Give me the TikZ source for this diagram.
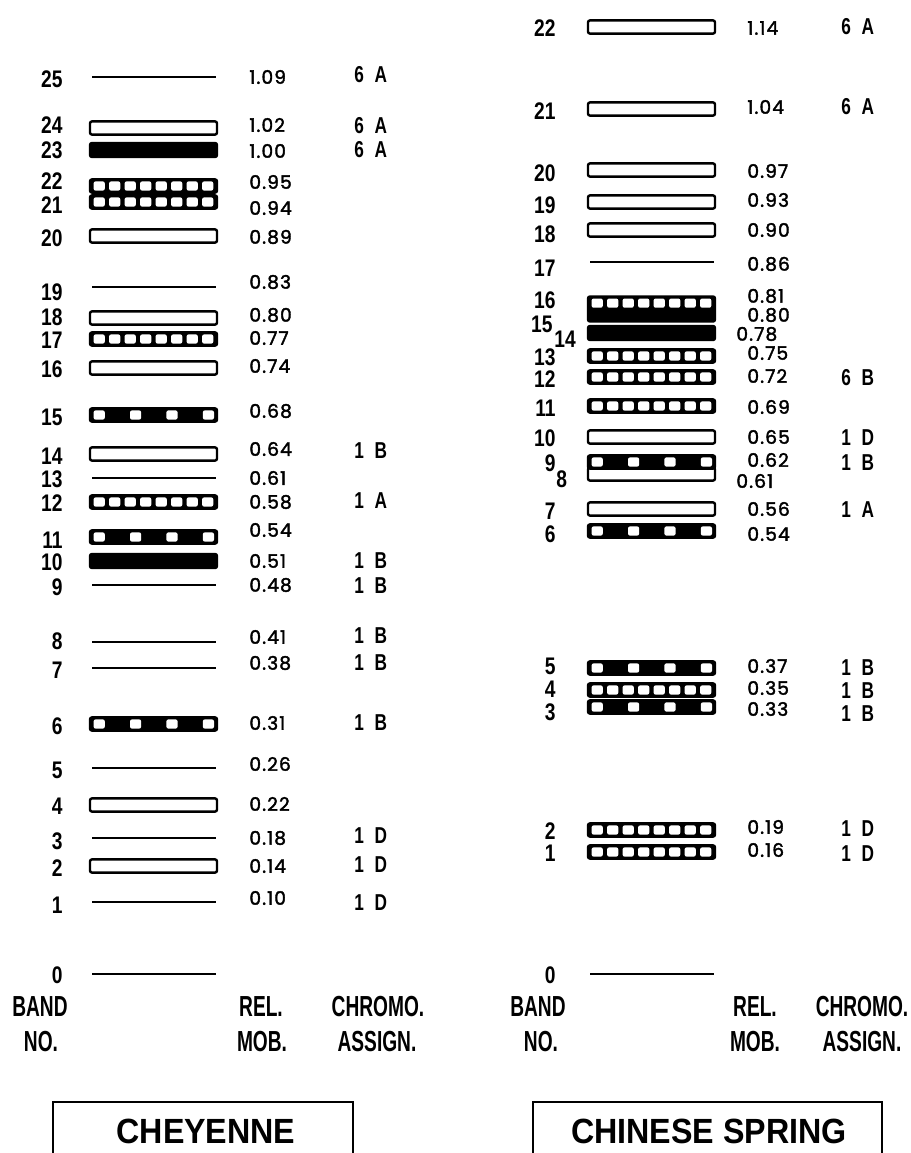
\documentclass[tikz,border=0pt]{standalone}
\usepackage{fontspec}
\newfontfamily\bandfont[FakeStretch=0.8]{Liberation Sans}
\newfontfamily\headfont[FakeStretch=0.66]{Liberation Sans}
\newfontfamily\chromofont[FakeStretch=0.75,WordSpace=2.2]{Liberation Sans}
\newfontfamily\mobfont[LetterSpace=6,FakeBold=2]{Poppins}
\newfontfamily\titlefont[FakeStretch=0.92]{Liberation Sans}

\begin{document}
\begin{tikzpicture}[
  x=0.5pt, y=-0.5pt,
  bar/.style={rounded corners=1pt, line width=1.2pt, minimum width=63.5pt, minimum height=6.6pt, inner sep=0pt, outer sep=0pt},
  openbar/.style={bar, draw, fill=white},
  solidbar/.style={bar, draw, fill=black, minimum height=7pt},
  finebar/.style={bar, draw, fill=black, path picture={
    \foreach \k in {0,...,7}
      \fill[white] ([xshift=1.8pt+\k*7.75pt, yshift=-1pt]path picture bounding box.north west) rectangle ++(5.6pt,-4.6pt);}},
  coarsebar/.style={bar, draw, fill=black, path picture={
    \foreach \k in {0,...,3}
      \fill[white] ([xshift=1.8pt+\k*18.2pt, yshift=-1pt]path picture bounding box.north west) rectangle ++(5.6pt,-4.6pt);}},
  bandline/.style={fill=black, minimum width=62pt, minimum height=1.2pt, inner sep=0pt, outer sep=0pt},
  bandno/.style={font=\bandfont\bfseries\fontsize{12}{12}\selectfont, inner sep=0pt},
  head/.style={font=\headfont\bfseries\fontsize{14.5}{14.5}\selectfont, inner sep=0pt},
  mob/.style={font=\mobfont\fontsize{9.3}{9.3}\selectfont, inner sep=0pt},
  chromo/.style={font=\chromofont\bfseries\fontsize{11.5}{11.5}\selectfont, inner sep=0pt},
  title/.style={font=\titlefont\bfseries\fontsize{17.5}{18}\selectfont, inner sep=0pt}
]
\useasboundingbox (0,0) rectangle (911,1153);
\fill[white] (0,0) rectangle (911,1153);

% Cheyenne
\foreach \n/\y in {25/77,19/287,13/478,9/585,8/642,7/668,5/768,3/838,1/902,0/974}
  \node[bandline] (c\n) at (153.5,\y) {};
\foreach \n/\y in {24/128,20/236,18/318,16/368,14/454,4/805,2/866}
  \node[openbar] (c\n) at (153.5,\y) {};
\foreach \n/\y in {23/150,10/561}
  \node[solidbar] (c\n) at (153.5,\y) {};
\foreach \n/\y in {22/186,21/202,17/339,12/502}
  \node[finebar] (c\n) at (153.5,\y) {};
\foreach \n/\y in {15/415,11/537,6/724}
  \node[coarsebar] (c\n) at (153.5,\y) {};

\foreach \n/\y in {25/79,24/125,23/150,22/181,21/205,20/238,19/292,18/317,17/340,16/369,15/417,14/456,13/479,
                   12/503,11/540,10/562,9/587,8/641,7/670,6/726,5/770,4/806,3/841,2/868,1/905,0/975}
  \node[bandno, anchor=east] (cn\n) at (63,\y) {\n};

\foreach \n/\y/\v in {25/77/1.09,24/125/1.02,23/151/1.00,22/182/0.95,21/208/0.94,20/237/0.89,19/282/0.83,
                      18/315/0.80,17/338/0.77,16/366/0.74,15/411/0.68,14/449/0.64,13/478/0.61,12/502/0.58,
                      11/530/0.54,10/561/0.51,9/585/0.48,8/637/0.41,7/663/0.38,6/723/0.31,5/764/0.26,
                      4/804/0.22,3/838/0.18,2/866/0.14,1/898/0.10}
  \node[mob, anchor=west] (cm\n) at (249,\y) {\v};

\foreach \n/\y/\a in {25/75/6 A,24/126/6 A,23/150/6 A,14/451/1 B,12/501/1 A,10/561/1 B,9/586/1 B,
                      8/636/1 B,7/663/1 B,6/723/1 B,3/836/1 D,2/865/1 D,1/903/1 D}
  \node[chromo, anchor=west] (ca\n) at (354,\y) {\a};

\node[head] (cband) at (40,1007) {BAND};
\node[head] (cno) at (41,1042) {NO.};
\node[head] (crel) at (261,1007) {REL.};
\node[head] (cmob) at (262,1042) {MOB.};
\node[head] (cchr) at (378,1007) {CHROMO.};
\node[head] (cass) at (377,1042) {ASSIGN.};

\node[title] (ctitle) at (206,1131) {CHEYENNE};
\draw[line width=1.2pt] (53,1160) -- (53,1102) -- (353,1102) -- (353,1160);

% Chinese Spring
\foreach \n/\y in {17/262,0/974}
  \node[bandline] (s\n) at (651.5,\y) {};
\foreach \n/\y in {22/27,21/109,20/170,19/202,18/230,10/437,8/474,7/509}
  \node[openbar] (s\n) at (651.5,\y) {};
\node[solidbar] (s14) at (651.5,333) {};
\node[finebar, minimum height=12.5pt] (s16) at (651.5,309) {};
\foreach \n/\y in {13/356,12/377,11/406,4/690,2/830,1/852}
  \node[finebar] (s\n) at (651.5,\y) {};
\foreach \n/\y in {9/462,6/531,5/668,3/707}
  \node[coarsebar] (s\n) at (651.5,\y) {};

\foreach \n/\y in {22/28,21/111,20/173,19/205,18/234,17/268,16/300,13/357,12/379,11/408,10/438,
                   9/463,7/511,6/534,5/666,4/689,3/712,2/831,1/853,0/975}
  \node[bandno, anchor=east] (sn\n) at (556,\y) {\n};
\node[bandno, anchor=east] (sn15) at (553,324) {15};
\node[bandno, anchor=west] (sn14) at (554,339) {14};
\node[bandno, anchor=west] (sn8) at (556,479) {8};

\foreach \n/\y/\v in {22/28/1.14,21/107/1.04,20/171/0.97,19/200/0.93,18/230/0.90,17/264/0.86,16/296/0.81,
                      15/315/0.80,13/353/0.75,12/376/0.72,11/407/0.69,10/437/0.65,9/460/0.62,7/509/0.56,
                      6/534/0.54,5/666/0.37,4/688/0.35,3/709/0.33,2/827/0.19,1/850/0.16}
  \node[mob, anchor=west] (sm\n) at (747,\y) {\v};
\node[mob, anchor=west] (sm14) at (736,334) {0.78};
\node[mob, anchor=west] (sm8) at (736,481) {0.61};

\foreach \n/\y/\a in {22/27/6 A,21/107/6 A,12/378/6 B,10/438/1 D,9/463/1 B,7/510/1 A,5/668/1 B,
                      4/691/1 B,3/714/1 B,2/829/1 D,1/854/1 D}
  \node[chromo, anchor=west] (sa\n) at (841,\y) {\a};

\node[head] (sband) at (538,1007) {BAND};
\node[head] (sno) at (541,1042) {NO.};
\node[head] (srel) at (755,1007) {REL.};
\node[head] (smob) at (755,1042) {MOB.};
\node[head] (schr) at (862,1007) {CHROMO.};
\node[head] (sass) at (862,1042) {ASSIGN.};

\node[title] (stitle) at (709,1131) {CHINESE SPRING};
\draw[line width=1.2pt] (533,1160) -- (533,1102) -- (882,1102) -- (882,1160);
\end{tikzpicture}
\end{document}
